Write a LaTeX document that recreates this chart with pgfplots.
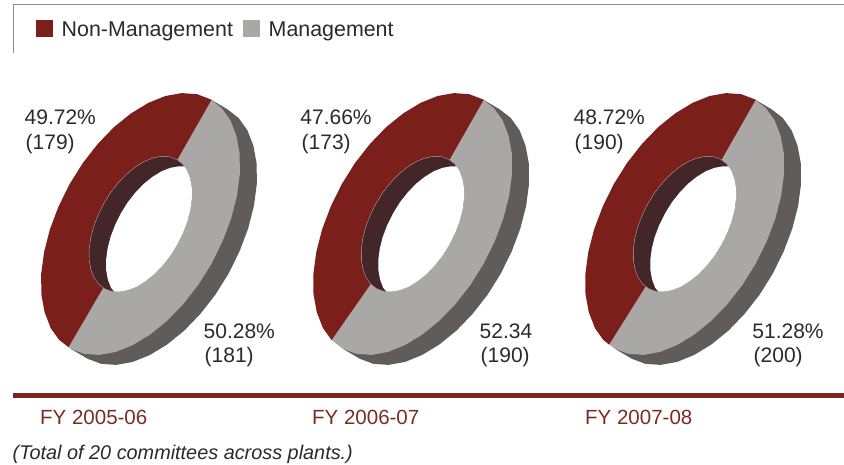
\documentclass[border=0pt]{standalone}
\usepackage{pgfplots}
\usepackage{pgfplotstable}
\usepackage{fontspec}
\setmainfont{Liberation Sans}
\pgfplotsset{compat=1.18}
\definecolor{nonmgmt}{HTML}{7A1F19}
\definecolor{mgmt}{HTML}{A9A8A6}
\definecolor{side}{HTML}{5F5C5A}
\definecolor{wall}{HTML}{42262A}
\definecolor{edge}{HTML}{B89A98}
\definecolor{ink}{HTML}{2B2A29}
\definecolor{fy}{HTML}{7D2A24}
\definecolor{rulec}{HTML}{7B2320}
\definecolor{frame}{HTML}{8C8C8C}

% outline of the extruded side, px from donut centre
\pgfplotstableread{
x y
69.8 124.8
86.8 114.8
98.1 106.0
106.9 93.7
112.9 78.2
116.2 60.1
116.3 39.8
113.4 18.0
107.6 -4.6
99.0 -27.4
88.0 -49.7
74.8 -70.8
59.8 -90.0
43.6 -106.8
26.5 -120.6
9.2 -131.1
-7.9 -138.0
-24.3 -140.9
-39.4 -139.8
-52.8 -134.8
-69.8 -124.8
}\bandtab
% management half ring
\pgfplotstableread{
x y
56.4 129.8
69.8 124.8
81.1 116.0
89.9 103.7
95.9 88.2
99.2 70.1
99.3 49.8
96.4 28.0
90.6 5.4
82.0 -17.4
71.0 -39.7
57.8 -60.8
42.8 -80.0
26.6 -96.8
9.5 -110.6
-7.8 -121.1
-24.9 -128.0
-41.3 -130.9
-56.4 -129.8
-69.8 -124.8
-81.1 -116.0
-89.9 -103.7
-46.5 -53.7
-42.0 -60.0
-36.1 -64.6
-29.2 -67.2
-21.4 -67.7
-12.9 -66.2
-4.0 -62.7
4.9 -57.2
13.8 -50.1
22.1 -41.4
29.9 -31.5
36.7 -20.5
42.4 -9.0
46.9 2.8
49.9 14.5
51.4 25.8
51.3 36.3
49.6 45.6
46.5 53.7
42.0 60.0
36.1 64.6
29.2 67.2
}\graytab
% non-management half ring
\pgfplotstableread{
x y
-81.1 -116.0
-89.9 -103.7
-95.9 -88.2
-99.2 -70.1
-99.3 -49.8
-96.4 -28.0
-90.6 -5.4
-82.0 17.4
-71.0 39.7
-57.8 60.8
-42.8 80.0
-26.6 96.8
-9.5 110.6
7.8 121.1
24.9 128.0
41.3 130.9
56.4 129.8
71.0 124.2
36.7 64.1
29.2 67.2
21.4 67.7
12.9 66.2
4.0 62.7
-4.9 57.2
-13.8 50.1
-22.1 41.4
-29.9 31.5
-36.7 20.5
-42.4 9.0
-46.9 -2.8
-49.9 -14.5
-51.4 -25.8
-51.3 -36.3
-49.6 -45.6
-46.5 -53.7
-42.0 -60.0
}\redtab
% where the split falls at the lower end, per year
\pgfplotstableread{
x y
-72.0 -123.1
-81.1 -116.0
-89.9 -103.7
-46.5 -53.7
-42.0 -60.0
-37.3 -63.7
}\wedgeA
\pgfplotstableread{
x y
-75.6 -120.6
-81.1 -116.0
-89.9 -103.7
-46.5 -53.7
-42.0 -60.0
-39.1 -62.4
}\wedgeC
% inner wall seen through the hole
\pgfplotstableread{
x y
43.6 57.7
42.0 60.0
36.1 64.6
29.2 67.2
21.4 67.7
12.9 66.2
4.0 62.7
-4.9 57.2
-13.8 50.1
-22.1 41.4
-29.9 31.5
-36.7 20.5
-42.4 9.0
-46.9 -2.8
-49.9 -14.5
-51.4 -25.8
-51.3 -36.3
-49.6 -45.6
-46.5 -53.7
-42.0 -60.0
-36.1 -64.6
-29.2 -67.2
-26.4 -67.4
}\walltab
% the see-through hole
\pgfplotstableread{
x y
43.6 57.7
46.5 53.7
49.6 45.6
51.3 36.3
51.4 25.8
49.9 14.5
46.9 2.8
42.4 -9.0
36.7 -20.5
29.9 -31.5
22.1 -41.4
13.8 -50.1
4.9 -57.2
-4.0 -62.7
-12.9 -66.2
-21.4 -67.7
-26.4 -67.4
-29.5 -63.7
-32.6 -55.6
-34.3 -46.3
-34.4 -35.8
-32.9 -24.5
-29.9 -12.8
-25.4 -1.0
-19.7 10.5
-12.9 21.5
-5.1 31.4
3.2 40.1
12.1 47.2
21.0 52.7
29.9 56.2
38.4 57.7
}\holetab

\pgfplotsset{
  donut/.style={hide axis, scale only axis, width=300pt, height=300pt,
    xmin=-150, xmax=150, ymin=-150, ymax=150, anchor=center, clip=false},
  poly/.style={fill=#1, draw=none, mark=none, line width=0pt},
}
\newcommand{\donut}[2]{%
  \begin{axis}[donut, at={(#1pt,240pt)}]
    \addplot[poly=side] table {\bandtab};
    \addplot[poly=mgmt] table {\graytab};
    \addplot[poly=nonmgmt] table {\redtab};
    #2
    \addplot[poly=wall] table {\walltab};
    \addplot[edge, line width=0.35pt, mark=none] table {\walltab};
    \addplot[poly=white] table {\holetab};
  \end{axis}}
\newcommand{\lab}[4][ink]{\node[anchor=base west, inner sep=0pt, text=#1, font=\fontsize{21}{24}\selectfont] at (axis cs:#2,#3) {#4};}
\newcommand{\yr}[3]{\node[anchor=base west, inner sep=0pt, text=fy, font=\fontsize{20.5}{24}\selectfont] at (axis cs:#1,#2) {#3};}

\begin{document}
\begin{tikzpicture}[x=1pt,y=1pt]
\useasboundingbox (0pt,0pt) rectangle (844pt,464pt);
\donut{140.5}{\addplot[poly=nonmgmt] table {\wedgeA};}
\donut{412.7}{}
\donut{684.7}{\addplot[poly=nonmgmt] table {\wedgeC};}
\begin{axis}[hide axis, scale only axis, width=844pt, height=464pt, at={(0pt,0pt)}, anchor=south west,
  xmin=0, xmax=844, ymin=0, ymax=464, clip=false]
  % frame lines, rule (y counted from the bottom)
  \addplot[frame, line width=1.5pt, mark=none] coordinates {(13,459.3) (844,459.3)};
  \addplot[frame, line width=0.9pt, mark=none] coordinates {(13.5,459.3) (13.5,411)};
  \addplot[rulec, line width=5pt, mark=none] coordinates {(13,69) (844,69)};
  % legend keys
  \addplot[poly=nonmgmt] coordinates {(36,444) (53,444) (53,427) (36,427)};
  \addplot[poly=mgmt] coordinates {(243,444) (260,444) (260,427) (243,427)};
  \node[anchor=base west, inner sep=0pt, text=ink, font=\fontsize{21.4}{24}\selectfont] at (axis cs:61.5,427.5) {Non-Management};
  \node[anchor=base west, inner sep=0pt, text=ink, font=\fontsize{21.4}{24}\selectfont] at (axis cs:268.5,427.5) {Management};
  % value labels
  \lab{24.5}{339}{49.72\%}
  \lab{25.5}{314}{(179)}
  \lab{300.2}{339}{47.66\%}
  \lab{301.5}{314}{(173)}
  \lab{573.5}{339}{48.72\%}
  \lab{574.5}{314}{(190)}
  \lab{203.5}{126}{50.28\%}
  \lab{204.5}{102}{(181)}
  \lab{479.5}{126}{52.34}
  \lab{480.5}{102}{(190)}
  \lab{752.2}{126}{51.28\%}
  \lab{753.5}{102}{(200)}
  % years
  \yr{40}{40}{FY 2005-06}
  \yr{312}{40}{FY 2006-07}
  \yr{585}{40}{FY 2007-08}
  \node[anchor=base west, inner sep=0pt, text=ink, font=\fontsize{19.85}{24}\selectfont\itshape] at (axis cs:12.5,4.5) {(Total of 20 committees across plants.)};
\end{axis}
\end{tikzpicture}
\end{document}
